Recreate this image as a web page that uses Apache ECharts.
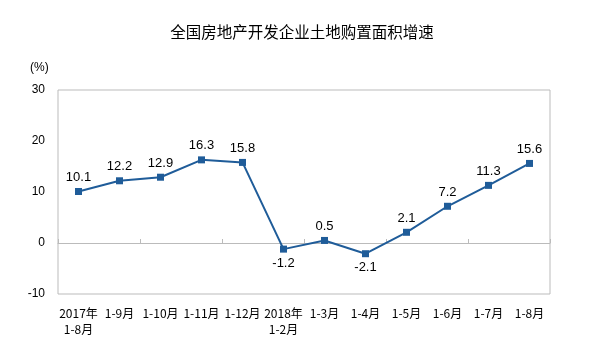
<!DOCTYPE html>
<html><head><meta charset="utf-8">
<script src="https://cdn.jsdelivr.net/npm/echarts@6/dist/echarts.min.js"></script>
<style>html,body{margin:0;padding:0;background:#fff}#c{width:604px;height:355px}</style>
</head><body><div id="c"></div>
<script>
var categories = ['2017年\n1-8月','1-9月','1-10月','1-11月','1-12月','2018年\n1-2月','1-3月','1-4月','1-5月','1-6月','1-7月','1-8月'];
var values = [10.1, 12.2, 12.9, 16.3, 15.8, -1.2, 0.5, -2.1, 2.1, 7.2, 11.3, 15.6];
var labelBelow = [false,false,false,false,false,true,false,true,false,false,false,false];
var yTicks = [-10, 0, 10, 20, 30];

var chart = echarts.init(document.getElementById('c'));
var data = values.map(function(v,i){
  return {value: v, label: {position: labelBelow[i] ? 'bottom' : 'top'}};
});
chart.setOption({
  animation: false,
  backgroundColor: '#fff',
  title: {text: '全国房地产开发企业土地购置面积增速', left: 'center', top: 19,
    textStyle: {fontSize: 15.5, fontWeight: 'normal', color: '#000', fontFamily: 'Noto Sans CJK SC'}},
  graphic: [{type: 'text', left: 30, top: 62,
    style: {text: '(%)', fill: '#000', fontSize: 12, fontFamily: 'Liberation Sans'}}],
  grid: {left: 58, right: 54, top: 90, bottom: 61, show: true, borderColor: '#bbb', borderWidth: 1},
  xAxis: [{
    type: 'category', data: categories, boundaryGap: true,
    axisLine: {show: false, onZero: false}, axisTick: {show: false},
    axisLabel: {interval: 0, color: '#000', fontSize: 12, fontFamily: 'Noto Sans CJK SC', margin: 11, lineHeight: 16}
  },{
    type: 'category', data: categories, boundaryGap: true, position: 'bottom',
    axisLine: {show: true, onZero: true, lineStyle: {color: '#bbb'}},
    axisTick: {show: true, inside: true, length: 4, lineStyle: {color: '#bbb'}},
    axisLabel: {show: false}
  }],
  yAxis: {
    type: 'value', min: -10, max: 30, interval: 10,
    axisLine: {show: false}, axisTick: {show: false}, splitLine: {show: false},
    axisLabel: {color: '#000', fontSize: 12, fontFamily: 'Liberation Sans', margin: 13,
      formatter: function(v){ return yTicks.indexOf(v) >= 0 ? String(v) : ''; }}
  },
  series: [{
    type: 'line', data: data, xAxisIndex: 0,
    symbol: 'rect', symbolSize: 7,
    lineStyle: {color: '#1f5c99', width: 2},
    itemStyle: {color: '#1f5c99'},
    label: {show: true, color: '#000', fontSize: 13, fontFamily: 'Liberation Sans', distance: 4,
      formatter: function(p){ return p.value.toFixed(1); }}
  }]
});
</script></body></html>
